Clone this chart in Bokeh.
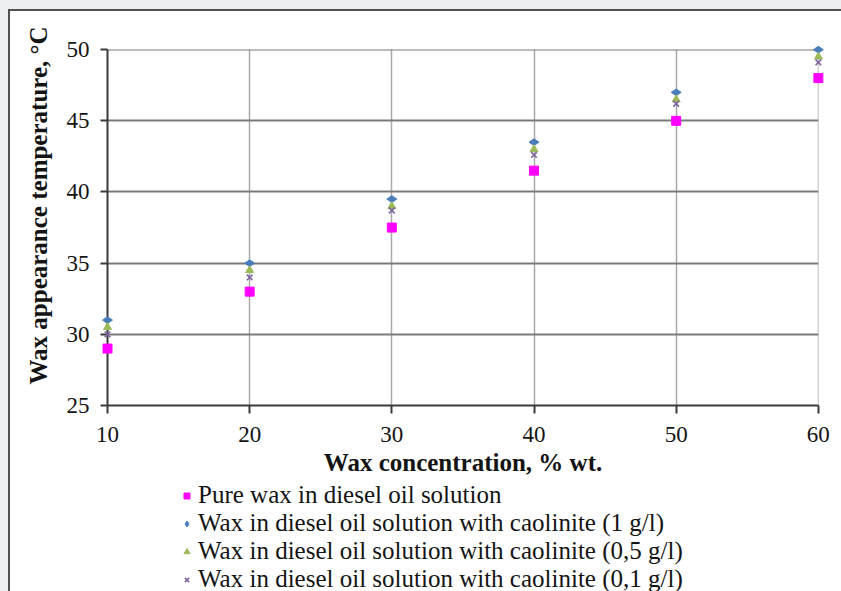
import math
from bokeh.plotting import figure
from bokeh.layouts import column
from bokeh.models import Range1d, Legend, LegendItem, Title, FixedTicker
from bokeh.embed import file_html
from bokeh.resources import INLINE

# ---- data ----
concentration = [10, 20, 30, 40, 50, 60]
pure_wax = [29.0, 33.0, 37.5, 41.5, 45.0, 48.0]
caolinite_1 = [31.0, 35.0, 39.5, 43.5, 47.0, 50.0]
caolinite_05 = [30.5, 34.5, 39.0, 43.0, 46.5, 49.5]
caolinite_01 = [30.0, 34.0, 38.7, 42.6, 46.2, 49.1]

x_ticks = [10, 20, 30, 40, 50, 60]
y_ticks = [25, 30, 35, 40, 45, 50]

series_labels = [
    "Pure wax in diesel oil solution",
    "Wax in diesel oil solution with caolinite (1 g/l)",
    "Wax in diesel oil solution with caolinite (0,5 g/l)",
    "Wax in diesel oil solution with caolinite (0,1 g/l)",
]
x_title = "Wax concentration, % wt."
y_title = "Wax appearance temperature, °C"

FONT = "Liberation Serif"
TXT = "#141414"

styles = [
    dict(marker="square", size=9, fill_color="#ff00ff", line_color="#ff00ff"),
    dict(marker="diamond", size=10, angle=math.pi / 2, fill_color="#4a7ebb", line_color="#4a7ebb"),
    dict(marker="triangle", size=8, fill_color="#9bbb59", line_color="#9bbb59"),
    dict(marker="x", size=8, line_width=1.6, line_color="#8064a2"),
]
series = [pure_wax, caolinite_1, caolinite_05, caolinite_01]

W = 831
p = figure(width=W, height=471, output_backend="svg", toolbar_location=None,
           x_range=Range1d(x_ticks[0], x_ticks[-1] + 0.01),
           y_range=Range1d(y_ticks[0], y_ticks[-1] + 0.01),
           min_border_left=97, min_border_right=23,
           min_border_top=38, min_border_bottom=77)
p.outline_line_color = None
p.background_fill_color = "white"
p.border_fill_color = "white"

# axes
p.xaxis.ticker = FixedTicker(ticks=x_ticks)
p.yaxis.ticker = FixedTicker(ticks=y_ticks)
for ax in (p.xaxis[0], p.yaxis[0]):
    ax.axis_line_color = "#3a3a3a"
    ax.axis_line_width = 2
    ax.major_tick_line_color = "#3a3a3a"
    ax.major_tick_line_width = 2
    ax.major_tick_in = 0
    ax.major_tick_out = 8
    ax.minor_tick_line_color = None
    ax.major_label_text_font = FONT
    ax.major_label_text_font_size = "23px"
    ax.major_label_text_color = TXT
p.yaxis.major_tick_out = 7
p.yaxis.major_label_standoff = 11
p.xaxis.major_label_standoff = 13
p.xaxis.axis_label = x_title
p.xaxis.axis_label_text_font = FONT
p.xaxis.axis_label_text_font_size = "25px"
p.xaxis.axis_label_text_font_style = "bold"
p.xaxis.axis_label_text_color = TXT
p.xaxis.axis_label_standoff = 4

yt = Title(text=y_title, align="left", text_font=FONT, text_font_size="25px",
           text_font_style="bold", text_color=TXT, standoff=24, offset=21)
p.add_layout(yt, "left")

# grids
p.ygrid.grid_line_color = "#7a7a7a"
p.ygrid.grid_line_width = 2
p.xgrid.grid_line_color = "#a8a8a8"
p.xgrid.grid_line_width = 1.5

# series
for vals, st in zip(series, styles):
    p.scatter(concentration, vals, level="overlay", **st)

# legend panel below the chart: same series, drawn outside this panel's visible
# range so that only their legend entries show
pl = figure(width=W, height=109, output_backend="svg", toolbar_location=None,
            x_range=Range1d(0, 1), y_range=Range1d(0, 1),
            x_axis_type=None, y_axis_type=None,
            min_border_left=97, min_border_right=23, min_border_top=0, min_border_bottom=0)
pl.outline_line_color = None
pl.border_fill_color = "white"
pl.background_fill_color = "white"
items = []
for lab, vals, st in zip(series_labels, series, styles):
    r = pl.scatter(concentration, vals, **st)
    items.append(LegendItem(label=lab, renderers=[r]))
legend = Legend(items=items, location=(72, -2), orientation="vertical",
                border_line_color=None, background_fill_alpha=0,
                padding=0, margin=0, spacing=-1,
                glyph_width=15, glyph_height=15, label_height=27, label_standoff=4,
                label_text_font=FONT, label_text_font_size="25px",
                label_text_color=TXT)
pl.add_layout(legend, "center")

layout = column(p, pl, spacing=0)
layout.styles = {"border-left": "2px solid #505050", "border-top": "2px solid #505050",
                 "background-color": "white"}

html = file_html(layout, INLINE)
k = html.rfind("</head>")
css = ("<style>html, body { background-color: #eff0f2 !important; }"
       " body { padding: 9px 0 0 8px !important; overflow: hidden; }</style>")
html = html[:k] + css + html[k:]
open("out.html", "w").write(html)
